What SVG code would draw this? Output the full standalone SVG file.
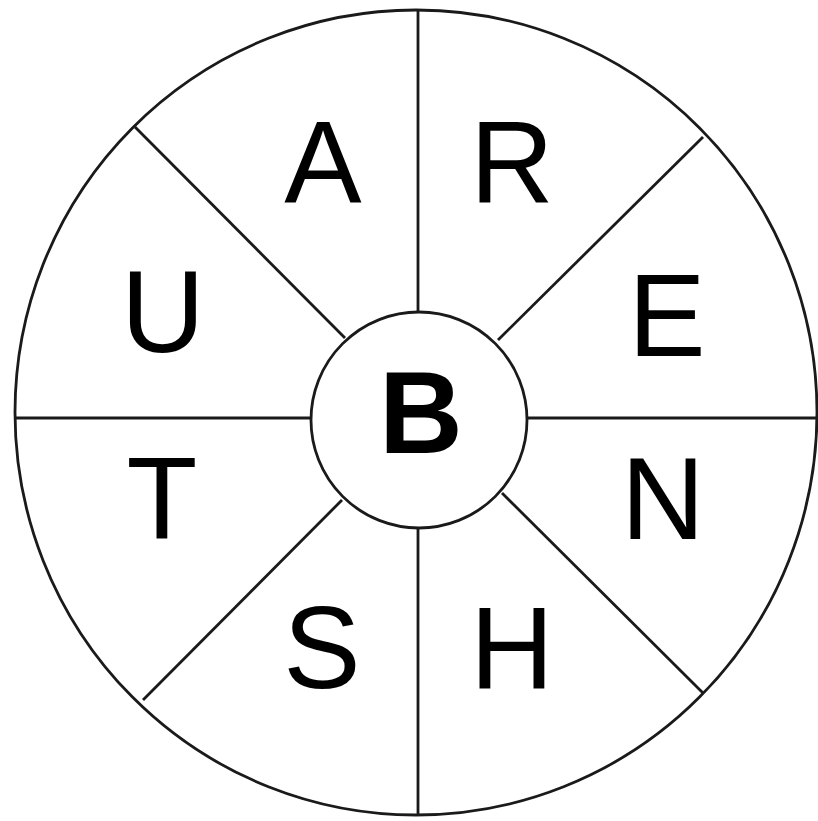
<svg xmlns="http://www.w3.org/2000/svg" width="818" height="821" viewBox="0 0 818 821">
<style>
.ln{stroke:#1a1a1a;stroke-width:2.8;fill:none}
.lt{font-family:"Liberation Sans",Arial,sans-serif;font-size:116px;fill:#000;text-anchor:middle}
.b{font-weight:bold}
</style>
<rect width="818" height="821" fill="#fff"/>
<g id="outer"><ellipse class="ln" cx="416" cy="412.5" rx="401" ry="402.5"/></g>
<g id="connectors">
<line class="ln" x1="418" y1="10" x2="418" y2="312"/>
<line class="ln" x1="418" y1="528" x2="418" y2="815"/>
<line class="ln" x1="15" y1="418" x2="311" y2="418"/>
<line class="ln" x1="528" y1="418" x2="817" y2="418"/>
<line class="ln" x1="135" y1="127" x2="345" y2="338"/>
<line class="ln" x1="703" y1="137" x2="498" y2="340"/>
<line class="ln" x1="143" y1="700" x2="342" y2="500"/>
<line class="ln" x1="703" y1="693" x2="502" y2="493"/>
</g>
<g id="center"><circle class="ln" cx="419" cy="420" r="108" fill="#fff"/><text class="lt b" x="421" y="453">B</text></g>
<g id="A"><text class="lt" x="323" y="203">A</text></g>
<g id="R"><text class="lt" x="512" y="202">R</text></g>
<g id="U"><text class="lt" x="163" y="352">U</text></g>
<g id="E"><text class="lt" x="667" y="356">E</text></g>
<g id="T"><text class="lt" x="162" y="539">T</text></g>
<g id="N"><text class="lt" x="663" y="539">N</text></g>
<g id="S"><text class="lt" x="322" y="688">S</text></g>
<g id="H"><text class="lt" x="512" y="688">H</text></g>
</svg>
